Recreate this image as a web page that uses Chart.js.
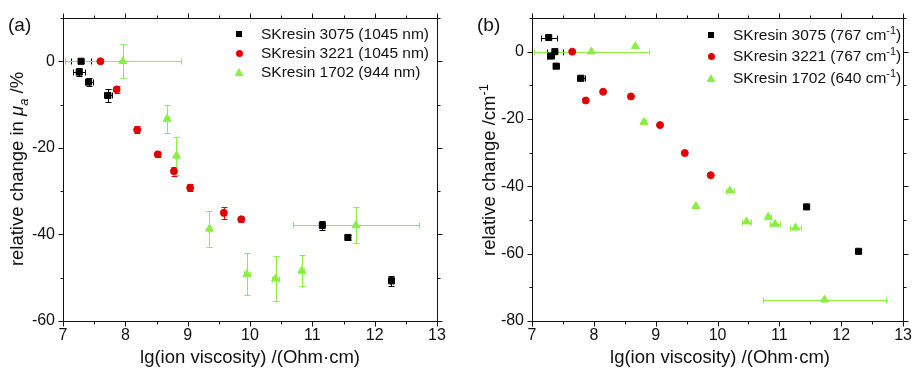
<!DOCTYPE html>
<html>
<head>
<meta charset="utf-8">
<script src="https://cdn.jsdelivr.net/npm/chart.js@4.4.1/dist/chart.umd.min.js"></script>
<style>
  body { margin: 0; background: #fff; }
  #wrap { position: relative; width: 917px; height: 368px; overflow: hidden;
          font-family: "Liberation Sans", Arial, sans-serif; color: #111; }
  canvas { position: absolute; top: 0; }
  .lbl { position: absolute; white-space: nowrap; }
  .panel-tag { font-size: 19px; }
  .ytitle { font-size: 18.5px; text-align: center; transform: rotate(-90deg); }
  .xtitle { font-size: 18.5px; text-align: center; }
  .leg { position: absolute; height: 20px; line-height: 20px; font-size: 15.5px; white-space: nowrap; }
  .mk { position: absolute; }
  .sq { width: 6px; height: 6px; background: #000; }
  .ci { width: 7px; height: 7px; border-radius: 50%; background: #e10000; }
  .tr { width: 9px; height: 8px; background: #8aee44; clip-path: polygon(50% 0, 100% 100%, 0 100%); }
  sub, sup { font-size: 70%; line-height: 0; }
</style>
</head>
<body>
<div id="wrap">
  <canvas id="chartA" width="460" height="368" style="left:0"></canvas>
  <canvas id="chartB" width="457" height="368" style="left:460px"></canvas>

  <div class="lbl panel-tag" style="left:8px;top:14px">(a)</div>
  <div class="lbl panel-tag" style="left:477px;top:14px">(b)</div>

  <div class="lbl ytitle" style="left:-93px;top:157px;width:220px;height:24px;line-height:24px">relative change in <i>μ</i><sub><i>a</i></sub> /%</div>
  <div class="lbl ytitle" style="left:379px;top:158px;width:220px;height:24px;line-height:24px">relative change /cm<sup>-1</sup></div>

  <div class="lbl xtitle" style="left:100px;top:346px;width:300px">lg(ion viscosity) /(Ohm·cm)</div>
  <div class="lbl xtitle" style="left:570px;top:346px;width:300px">lg(ion viscosity) /(Ohm·cm)</div>

  <div id="legA"></div>
  <div id="legB"></div>
</div>

<script>
// x axis: lg(ion viscosity), both panels
const xMin = 7;
const xMax = 13;

// (a) relative change in mu_a /%
const a3075X = [7.29, 7.26, 7.41, 7.72, 11.16, 11.57, 12.27];
const a3075Y = [0, -2.5, -4.8, -7.9, -37.9, -40.7, -50.7];
const a3075XErr = [0.16, 0.10, 0.065, 0.07, 0.03, 0.02, 0.02];
const a3075YErr = [0.3, 0.9, 1.0, 1.5, 1.0, 0.5, 1.1];

const a3221X = [7.60, 7.86, 8.19, 8.52, 8.78, 9.04, 9.58, 9.86];
const a3221Y = [0, -6.5, -15.8, -21.5, -25.4, -29.2, -35.0, -36.5];
const a3221XErr = [0.03, 0.03, 0.03, 0.03, 0.03, 0.03, 0.03, 0.03];
const a3221YErr = [0.5, 0.8, 0.8, 0.5, 1.0, 0.8, 1.4, 0.6];

const a1702X = [7.96, 8.67, 8.82, 9.35, 9.95, 10.41, 10.83, 11.70];
const a1702Y = [0, -13.3, -21.8, -38.7, -49.2, -50.2, -48.4, -37.9];
const a1702XErr = [0.93, 0.03, 0.03, 0.03, 0.05, 0.05, 0.03, 1.01];
const a1702YErr = [3.9, 3.3, 4.4, 4.2, 4.8, 5.2, 3.6, 4.15];

// (b) relative change /cm-1
const b3075X = [7.27, 7.37, 7.30, 7.39, 7.79, 11.44, 12.28];
const b3075Y = [4.2, 0, -1.3, -4.3, -7.9, -46.1, -59.3];
const b3075XErr = [0.13, 0.13, 0.06, 0.05, 0.07, 0, 0];

const b3221X = [7.65, 7.87, 8.15, 8.60, 9.07, 9.47, 9.89];
const b3221Y = [0, -14.5, -11.9, -13.3, -21.8, -30.1, -36.7];

const b1702X = [7.96, 8.67, 8.81, 9.65, 10.20, 10.47, 10.82, 10.93, 11.26, 11.73];
const b1702Y = [0, 1.6, -20.9, -45.9, -41.3, -50.5, -49.1, -51.2, -52.3, -73.7];
const b1702XErr = [0.93, 0, 0.03, 0, 0.064, 0.067, 0.04, 0.075, 0.09, 0.99];

const labelsA = ["SKresin 3075 (1045 nm)", "SKresin 3221 (1045 nm)", "SKresin 1702 (944 nm)"];
const labelsB = ["SKresin 3075 (767 cm<sup>-1</sup>)", "SKresin 3221 (767 cm<sup>-1</sup>)", "SKresin 1702 (640 cm<sup>-1</sup>)"];

const BLACK = "#000000";
const RED = "#e10000";
const GREEN = "#8aee44";
const AXIS = "#111111";

Chart.defaults.font.family = '"Liberation Sans", Arial, sans-serif';
Chart.defaults.color = AXIS;

function points(xs, ys) {
  return xs.map((x, i) => ({ x: x, y: ys[i] }));
}

function series(label, xs, ys, xErr, yErr, color, style, radius) {
  return {
    label: label,
    data: points(xs, ys),
    xErr: xErr || [],
    yErr: yErr || [],
    pointStyle: style,
    pointRadius: radius,
    backgroundColor: color,
    borderColor: color,
    borderWidth: 1,
    showLine: false,
  };
}

//Error bars drawn under the markers
const errorBars = {
  id: "errorBars",
  beforeDatasetsDraw(chart) {
    const { ctx, chartArea: a, scales: { x, y } } = chart;
    const cap = 3;
    ctx.save();
    ctx.beginPath();
    ctx.rect(a.left, a.top, a.width, a.height);
    ctx.clip();
    ctx.lineWidth = 1;
    chart.data.datasets.forEach((ds) => {
      ctx.strokeStyle = ds.borderColor;
      ds.data.forEach((p, i) => {
        const px = Math.round(x.getPixelForValue(p.x)) + 0.5;
        const py = Math.round(y.getPixelForValue(p.y)) + 0.5;
        const xe = ds.xErr[i];
        const ye = ds.yErr[i];
        ctx.beginPath();
        if (xe) {
          const l = Math.round(x.getPixelForValue(p.x - xe)) + 0.5;
          const r = Math.round(x.getPixelForValue(p.x + xe)) + 0.5;
          ctx.moveTo(l, py); ctx.lineTo(r, py);
          ctx.moveTo(l, py - cap); ctx.lineTo(l, py + cap);
          ctx.moveTo(r, py - cap); ctx.lineTo(r, py + cap);
        }
        if (ye) {
          const t = Math.round(y.getPixelForValue(p.y + ye)) + 0.5;
          const b = Math.round(y.getPixelForValue(p.y - ye)) + 0.5;
          ctx.moveTo(px, t); ctx.lineTo(px, b);
          ctx.moveTo(px - cap, t); ctx.lineTo(px + cap, t);
          ctx.moveTo(px - cap, b); ctx.lineTo(px + cap, b);
        }
        ctx.stroke();
      });
    });
    ctx.restore();
  },
};

//Box frame with outward major and minor ticks on all four sides
const frameTicks = {
  id: "frameTicks",
  afterDraw(chart) {
    const { ctx, chartArea: a, scales: { x, y } } = chart;
    const major = 5, minor = 3;
    const L = Math.round(a.left) + 0.5, R = Math.round(a.right) + 0.5;
    const T = Math.round(a.top) + 0.5, B = Math.round(a.bottom) + 0.5;
    ctx.save();
    ctx.strokeStyle = AXIS;
    ctx.lineWidth = 1;
    ctx.beginPath();
    ctx.rect(L, T, R - L, B - T);

    const withMinor = (scale) => {
      const vals = scale.ticks.map((t) => t.value);
      const step = vals[1] - vals[0];
      const out = vals.map((v) => [v, major]);
      vals.forEach((v) => {
        if (v + step / 2 <= scale.max) out.push([v + step / 2, minor]);
      });
      if (vals[0] - step / 2 >= scale.min) out.push([vals[0] - step / 2, minor]);
      return out;
    };

    withMinor(x).forEach(([v, len]) => {
      const px = Math.round(x.getPixelForValue(v)) + 0.5;
      ctx.moveTo(px, B); ctx.lineTo(px, B + len);
      ctx.moveTo(px, T); ctx.lineTo(px, T - len);
    });
    withMinor(y).forEach(([v, len]) => {
      const py = Math.round(y.getPixelForValue(v)) + 0.5;
      ctx.moveTo(L, py); ctx.lineTo(L - len, py);
      ctx.moveTo(R, py); ctx.lineTo(R + len, py);
    });
    ctx.stroke();
    ctx.restore();
  },
};

function makeChart(canvas, datasets, yMin, yMax, box) {
  return new Chart(canvas.getContext("2d"), {
    type: "scatter",
    data: { datasets: datasets },
    plugins: [errorBars, frameTicks],
    options: {
      responsive: false,
      animation: false,
      events: [],
      layout: { padding: { top: box.top, right: box.right, left: 0, bottom: 0 } },
      plugins: { legend: { display: false }, tooltip: { enabled: false } },
      scales: {
        x: {
          type: "linear",
          min: xMin,
          max: xMax,
          grid: { display: false, drawTicks: false },
          border: { display: false },
          ticks: { stepSize: 1, padding: 5, font: { size: 16 }, color: AXIS, maxRotation: 0 },
          afterFit: (s) => { s.height = box.bottom; },
        },
        y: {
          type: "linear",
          min: yMin,
          max: yMax,
          grid: { display: false, drawTicks: false },
          border: { display: false },
          ticks: { stepSize: 20, includeBounds: false, padding: 8, font: { size: 16 }, color: AXIS },
          afterFit: (s) => { s.width = box.left; },
        },
      },
    },
  });
}

makeChart(document.getElementById("chartA"), [
  series(labelsA[0], a3075X, a3075Y, a3075XErr, a3075YErr, BLACK, "rect", 4.3),
  series(labelsA[1], a3221X, a3221Y, a3221XErr, a3221YErr, RED, "circle", 3.5),
  series(labelsA[2], a1702X, a1702Y, a1702XErr, a1702YErr, GREEN, "triangle", 4.6),
], -60, 10, { left: 63, right: 23, top: 18, bottom: 47 });

makeChart(document.getElementById("chartB"), [
  series(labelsB[0], b3075X, b3075Y, b3075XErr, null, BLACK, "rect", 4.3),
  series(labelsB[1], b3221X, b3221Y, null, null, RED, "circle", 3.5),
  series(labelsB[2], b1702X, b1702Y, b1702XErr, null, GREEN, "triangle", 4.6),
], -80, 10, { left: 72, right: 9, top: 18, bottom: 47 });

//Legends inside the plot areas
function buildLegend(el, labels, markerX, textX, rowsY) {
  const shapes = ["sq", "ci", "tr"];
  const sizes = [[6, 6], [7, 7], [9, 8]];
  labels.forEach((text, i) => {
    const row = document.createElement("div");
    row.className = "leg";
    row.style.left = textX + "px";
    row.style.top = (rowsY[i] - 9) + "px";
    row.innerHTML = text;
    const mk = document.createElement("div");
    mk.className = "mk " + shapes[i];
    mk.style.left = (markerX - textX - sizes[i][0] / 2) + "px";
    mk.style.top = (10 - sizes[i][1] / 2) + "px";
    row.appendChild(mk);
    el.appendChild(row);
  });
}
buildLegend(document.getElementById("legA"), labelsA, 239, 261, [33, 52, 71]);
buildLegend(document.getElementById("legB"), labelsB, 711, 733, [34, 55, 77]);
</script>
</body>
</html>
